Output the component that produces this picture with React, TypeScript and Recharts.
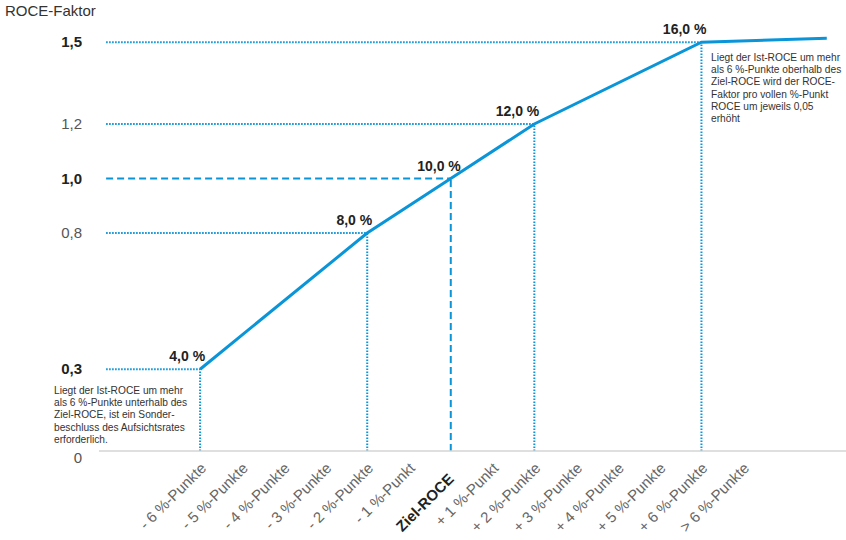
import React from 'react';
import { LineChart, Line, XAxis, YAxis, ReferenceLine, LabelList } from 'recharts';

// ROCE in % (Ziel-ROCE = 10 %) and the resulting ROCE-Faktor
const roce = [4, 8, 10, 12, 16, 19];
const faktor = [0.3, 0.8, 1.0, 1.2, 1.5, 1.515];

// points that get a label and helper lines
const markedRoce = [4, 8, 10, 12, 16];
const markedLabels = ['4,0 %', '8,0 %', '10,0 %', '12,0 %', '16,0 %'];

const xTicks = [4, 5, 6, 7, 8, 9, 10, 11, 12, 13, 14, 15, 16, 17];
const xTickLabels = [
  '- 6 %-Punkte', '- 5 %-Punkte', '- 4 %-Punkte', '- 3 %-Punkte', '- 2 %-Punkte', '- 1 %-Punkt',
  'Ziel-ROCE',
  '+ 1 %-Punkt', '+ 2 %-Punkte', '+ 3 %-Punkte', '+ 4 %-Punkte', '+ 5 %-Punkte', '+ 6 %-Punkte',
  '> 6 %-Punkte',
];

const yTicks = [0, 0.3, 0.8, 1.0, 1.2, 1.5];
const yTickLabels = ['0', '0,3', '0,8', '1,0', '1,2', '1,5'];
const yBold = [0.3, 1.0, 1.5];

const noteLow = [
  'Liegt der Ist-ROCE um mehr',
  'als 6 %-Punkte unterhalb des',
  'Ziel-ROCE, ist ein Sonder-',
  'beschluss des Aufsichtsrates',
  'erforderlich.',
];
const noteHigh = [
  'Liegt der Ist-ROCE um mehr',
  'als 6 %-Punkte oberhalb des',
  'Ziel-ROCE wird der ROCE-',
  'Faktor pro vollen %-Punkt',
  'ROCE um jeweils 0,05',
  'erhöht',
];

const data = roce.map((r, i) => ({ roce: r, faktor: faktor[i] }));

const BLUE = '#0a95d9';
const FONT = '"Liberation Sans", Arial, sans-serif';
const X_MIN = 1.58;
const X_MAX = 19.46;
const LINE_START = 1.75;

const XTick = (props: any) => {
  const { x, y, payload } = props;
  const i = xTicks.indexOf(payload.value);
  const ziel = payload.value === 10;
  const tx = x + 7 + (ziel ? -3 : 0);
  const ty = y + 10 + (ziel ? 11 : 0);
  return (
    <text
      x={tx}
      y={ty}
      transform={`rotate(-45, ${tx}, ${ty})`}
      textAnchor="end"
      fontFamily={FONT}
      fontSize={15}
      fontWeight={ziel ? 'bold' : 'normal'}
      fill={ziel ? '#222' : '#666'}
    >
      {xTickLabels[i]}
    </text>
  );
};

const YTick = (props: any) => {
  const { y, payload } = props;
  const i = yTicks.indexOf(payload.value);
  const bold = yBold.includes(payload.value);
  const dy = payload.value === 0 ? 12 : 5;
  return (
    <text
      x={82}
      y={y + dy}
      textAnchor="end"
      fontFamily={FONT}
      fontSize={15}
      fontWeight={bold ? 'bold' : 'normal'}
      fill={bold ? '#222' : '#555'}
    >
      {yTickLabels[i]}
    </text>
  );
};

const labelShift: Record<number, number> = { 10: 5 };

const PointLabel = (props: any) => {
  const { x, y, index } = props;
  const r = roce[index];
  const k = markedRoce.indexOf(r);
  if (k < 0) return null;
  return (
    <text
      x={x + 5 + (labelShift[r] || 0)}
      y={y - 8}
      textAnchor="end"
      fontFamily={FONT}
      fontSize={14}
      fontWeight="bold"
      fill="#222"
    >
      {markedLabels[k]}
    </text>
  );
};

const noteStyle: React.CSSProperties = {
  position: 'absolute',
  fontFamily: FONT,
  fontSize: 10.2,
  lineHeight: '12.2px',
  color: '#333',
  whiteSpace: 'nowrap',
};

export default function App() {
  return (
    <div style={{ position: 'absolute', left: 0, top: 0, width: 846, height: 540, background: '#fff' }}>
      <LineChart width={846} height={540} data={data} margin={{ top: 15, right: 0, left: 0, bottom: 0 }}>
        <XAxis
          dataKey="roce"
          type="number"
          domain={[X_MIN, X_MAX]}
          ticks={xTicks}
          interval={0}
          allowDataOverflow
          height={89}
          tickLine={false}
          axisLine={{ stroke: '#d4d4d4', strokeWidth: 1.5 }}
          tick={<XTick />}
        />
        <YAxis
          type="number"
          domain={[0, 1.6]}
          ticks={yTicks}
          interval={0}
          width={99}
          axisLine={false}
          tickLine={false}
          tick={<YTick />}
        />
        {markedRoce.map((r) => {
          const f = faktor[roce.indexOf(r)];
          const dash = r === 10 ? '7 4' : '1.6 1.4';
          return (
            <ReferenceLine
              key={`h-${r}`}
              segment={[{ x: LINE_START, y: f }, { x: r, y: f }]}
              stroke={BLUE}
              strokeWidth={2}
              strokeDasharray={dash}
            />
          );
        })}
        {markedRoce.map((r) => {
          const f = faktor[roce.indexOf(r)];
          const dash = r === 10 ? '7 4' : '1.6 1.4';
          return (
            <ReferenceLine
              key={`v-${r}`}
              segment={[{ x: r, y: 0 }, { x: r, y: f }]}
              stroke={BLUE}
              strokeWidth={2}
              strokeDasharray={dash}
            />
          );
        })}
        <Line
          type="linear"
          dataKey="faktor"
          stroke={BLUE}
          strokeWidth={3}
          dot={false}
          isAnimationActive={false}
        >
          <LabelList dataKey="faktor" content={<PointLabel />} />
        </Line>
      </LineChart>
      <div style={{ position: 'absolute', left: 5, top: 2, fontFamily: FONT, fontSize: 15, color: '#333' }}>
        ROCE-Faktor
      </div>
      <div style={{ ...noteStyle, left: 54, top: 385 }}>
        {noteLow.map((l) => (
          <div key={l}>{l}</div>
        ))}
      </div>
      <div style={{ ...noteStyle, left: 711, top: 52 }}>
        {noteHigh.map((l) => (
          <div key={l}>{l}</div>
        ))}
      </div>
    </div>
  );
}
